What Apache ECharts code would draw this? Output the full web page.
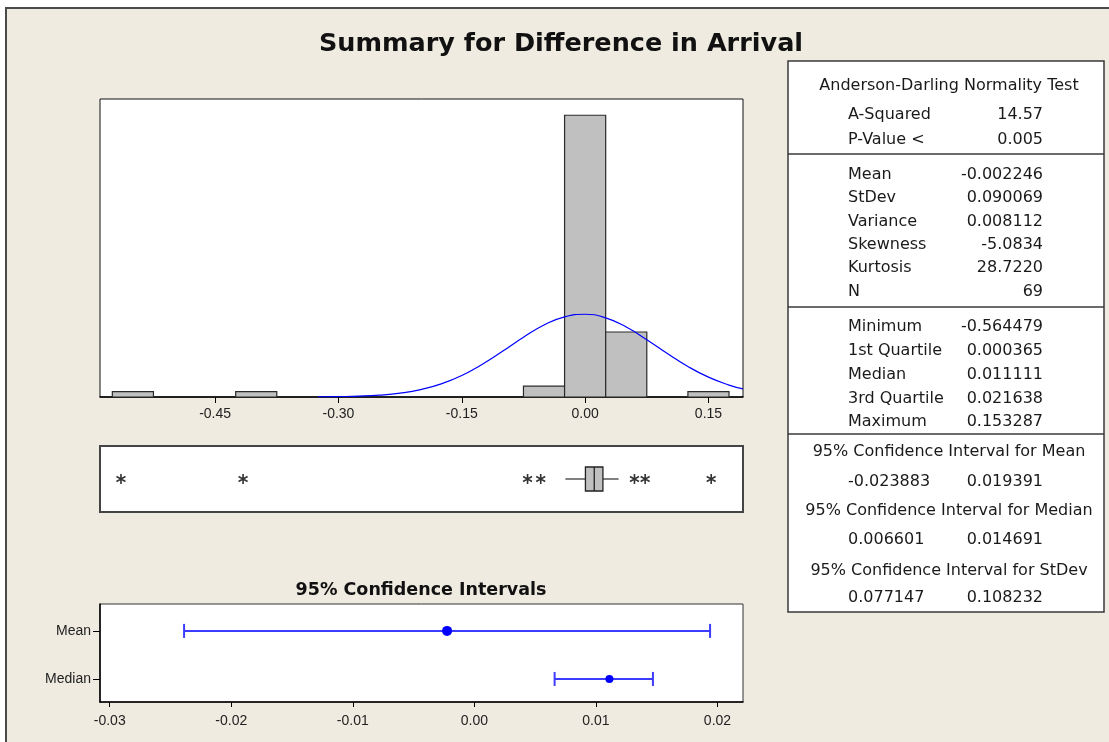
<!DOCTYPE html>
<html>
<head>
<meta charset="utf-8">
<title>Summary for Difference in Arrival</title>
<script src="https://cdn.jsdelivr.net/npm/echarts@6/dist/echarts.min.js"></script>
<style>
  html, body { margin: 0; padding: 0; background: #fff; }
  #main { width: 1109px; height: 742px; }
</style>
</head>
<body>
<div id="main"></div>
<script>
// histogram: bin centers (width 0.05) and counts
const binCenters = [-0.55, -0.50, -0.45, -0.40, -0.35, -0.30, -0.25, -0.20, -0.15, -0.10, -0.05, 0.00, 0.05, 0.10, 0.15];
const binCounts  = [1, 0, 0, 1, 0, 0, 0, 0, 0, 0, 2, 52, 12, 0, 1];
const binWidth = 0.05;

// fitted normal curve (in counts)
const curveX = [-0.325, -0.300, -0.275, -0.250, -0.225, -0.200, -0.175, -0.150, -0.125, -0.100, -0.075, -0.050,
                -0.025, 0.000, 0.025, 0.050, 0.075, 0.100, 0.125, 0.150, 0.175, 0.192];
const curveY = [0.02, 0.07, 0.16, 0.35, 0.72, 1.37, 2.43, 3.98, 6.04, 8.48, 11.03, 13.28,
                14.80, 15.27, 14.60, 12.92, 10.58, 8.02, 5.63, 3.66, 2.20, 1.50];
const histTicks = [-0.45, -0.30, -0.15, 0.00, 0.15];

// boxplot: whisker low, Q1, median, Q3, whisker high + outliers
const boxStats = [-0.024, 0.000365, 0.011111, 0.021638, 0.0407];
const outliers = [-0.5645, -0.416, -0.070, -0.054, 0.060, 0.073, 0.1533];

// 95% confidence intervals
const ciRows = ['Mean', 'Median'];
const ciEst  = [-0.002246, 0.011111];
const ciLow  = [-0.023883, 0.006601];
const ciHigh = [0.019391, 0.014691];
const ciTicks = [-0.03, -0.02, -0.01, 0.00, 0.01, 0.02];

// summary table
const adLabels = ['A-Squared', 'P-Value <'];
const adValues = ['14.57', '0.005'];
const descLabels = ['Mean', 'StDev', 'Variance', 'Skewness', 'Kurtosis', 'N'];
const descValues = ['-0.002246', '0.090069', '0.008112', '-5.0834', '28.7220', '69'];
const quartLabels = ['Minimum', '1st Quartile', 'Median', '3rd Quartile', 'Maximum'];
const quartValues = ['-0.564479', '0.000365', '0.011111', '0.021638', '0.153287'];
const ciTitles = ['95% Confidence Interval for Mean', '95% Confidence Interval for Median', '95% Confidence Interval for StDev'];
const ciTableLow  = ['-0.023883', '0.006601', '0.077147'];
const ciTableHigh = ['0.019391', '0.014691', '0.108232'];

const chart = echarts.init(document.getElementById('main'));

const axisFont = { fontFamily: 'Liberation Sans, Arial, sans-serif', fontSize: 14, color: '#222' };
const tableFont = '16px "DejaVu Sans", sans-serif';

function renderBar(params, api) {
  const n = api.value(2);
  if (!n) return null;
  const p0 = api.coord([api.value(0), n]);
  const p1 = api.coord([api.value(1), 0]);
  return {
    type: 'rect',
    shape: { x: p0[0], y: p0[1], width: p1[0] - p0[0], height: p1[1] - p0[1] },
    style: { fill: '#C0C0C0', stroke: '#2a2a2a', lineWidth: 1.2 }
  };
}

function renderBox(params, api) {
  const y = api.coord([0, 0.5])[1];
  const x = [0, 1, 2, 3, 4].map(i => api.coord([api.value(i), 0.5])[0]);
  const h = 12;
  return {
    type: 'group',
    children: [
      { type: 'line', shape: { x1: x[0], y1: y, x2: x[1], y2: y }, style: { stroke: '#000', lineWidth: 1 } },
      { type: 'line', shape: { x1: x[3], y1: y, x2: x[4], y2: y }, style: { stroke: '#000', lineWidth: 1 } },
      { type: 'rect', shape: { x: x[1], y: y - h, width: x[3] - x[1], height: 2 * h },
        style: { fill: '#C0C0C0', stroke: '#222', lineWidth: 1.3 } },
      { type: 'line', shape: { x1: x[2], y1: y - h, x2: x[2], y2: y + h }, style: { stroke: '#222', lineWidth: 1.3 } }
    ]
  };
}

function renderCI(params, api) {
  const row = api.value(0);
  const lo = api.coord([api.value(1), row]);
  const est = api.coord([api.value(2), row]);
  const hi = api.coord([api.value(3), row]);
  const r = params.dataIndex === 0 ? 5 : 4;
  const cap = 7;
  const st = { stroke: '#3c3cff', lineWidth: 2 };
  return {
    type: 'group',
    children: [
      { type: 'line', shape: { x1: lo[0], y1: lo[1], x2: hi[0], y2: hi[1] }, style: st },
      { type: 'line', shape: { x1: lo[0], y1: lo[1] - cap, x2: lo[0], y2: lo[1] + cap }, style: st },
      { type: 'line', shape: { x1: hi[0], y1: hi[1] - cap, x2: hi[0], y2: hi[1] + cap }, style: st },
      { type: 'circle', shape: { cx: est[0], cy: est[1], r: r }, style: { fill: '#0000ff' } }
    ]
  };
}

// table graphics
const tbl = [];
const tx = 788, ty = 61, tw = 316, th = 551;
const labX = 848, valX = 1043, midX = 949;
tbl.push({ type: 'rect', shape: { x: tx, y: ty, width: tw, height: th }, style: { fill: '#fff', stroke: '#3a3a3a', lineWidth: 1.5 } });
[154, 307, 434].forEach(y => {
  tbl.push({ type: 'line', shape: { x1: tx, y1: y, x2: tx + tw, y2: y }, style: { stroke: '#3a3a3a', lineWidth: 1.5 } });
});
function txt(s, x, y, align) {
  tbl.push({ type: 'text', x: x, y: y,
    style: { text: s, font: tableFont, fill: '#1a1a1a', align: align, verticalAlign: 'middle' } });
}
txt('Anderson-Darling Normality Test', midX, 86, 'center');
adLabels.forEach((s, i) => { txt(s, labX, 115 + 24.5 * i, 'left'); txt(adValues[i], valX, 115 + 24.5 * i, 'right'); });
descLabels.forEach((s, i) => { txt(s, labX, 175 + 23.3 * i, 'left'); txt(descValues[i], valX, 175 + 23.3 * i, 'right'); });
quartLabels.forEach((s, i) => { txt(s, labX, 327 + 23.8 * i, 'left'); txt(quartValues[i], valX, 327 + 23.8 * i, 'right'); });
const ciHeadY = [452, 511, 571], ciValY = [482, 540, 598];
ciTitles.forEach((s, i) => {
  txt(s, midX, ciHeadY[i], 'center');
  txt(ciTableLow[i], labX, ciValY[i], 'left');
  txt(ciTableHigh[i], valX, ciValY[i], 'right');
});

const option = {
  backgroundColor: '#EFEBE1',
  animation: false,
  graphic: [
    { type: 'rect', shape: { x: 0, y: 0, width: 1109, height: 7 }, style: { fill: '#fff' } },
    { type: 'rect', shape: { x: 0, y: 0, width: 5, height: 742 }, style: { fill: '#fff' } },
    { type: 'polyline', shape: { points: [[6, 742], [6, 8], [1109, 8]] }, style: { stroke: '#4a4a4a', lineWidth: 2, fill: null } },
    { type: 'text', x: 561, y: 44,
      style: { text: 'Summary for Difference in Arrival', font: 'bold 25.5px "DejaVu Sans", sans-serif', fill: '#111', align: 'center', verticalAlign: 'middle' } },
    { type: 'text', x: 421, y: 590,
      style: { text: '95% Confidence Intervals', font: 'bold 17.5px "DejaVu Sans", sans-serif', fill: '#111', align: 'center', verticalAlign: 'middle' } },
    { type: 'group', children: tbl }
  ],
  grid: [
    { left: 100, top: 99, width: 643, height: 298, show: true, backgroundColor: '#fff', borderColor: '#111', borderWidth: 1 },
    { left: 100, top: 446, width: 643, height: 66, show: true, backgroundColor: '#fff', borderColor: '#444', borderWidth: 2 },
    { left: 100, top: 604, width: 643, height: 98, show: true, backgroundColor: '#fff', borderColor: '#333', borderWidth: 1 }
  ],
  xAxis: [
    { gridIndex: 0, type: 'value', min: -0.59, max: 0.192, splitLine: { show: false },
      axisLine: { show: true, onZero: false, lineStyle: { color: '#000', width: 1.5 } },
      axisTick: { show: true, inside: false, length: 6, customValues: histTicks, lineStyle: { color: '#000' } },
      axisLabel: Object.assign({ customValues: histTicks, margin: 10, formatter: v => v.toFixed(2) }, axisFont) },
    { gridIndex: 1, type: 'value', min: -0.59, max: 0.192, show: false, splitLine: { show: false } },
    { gridIndex: 2, type: 'value', min: -0.0308, max: 0.0221, splitLine: { show: false },
      axisLine: { show: true, onZero: false, lineStyle: { color: '#000', width: 1.5 } },
      axisTick: { show: true, inside: false, length: 5, customValues: ciTicks, lineStyle: { color: '#000' } },
      axisLabel: Object.assign({ customValues: ciTicks, margin: 12, formatter: v => v.toFixed(2) }, axisFont) }
  ],
  yAxis: [
    { gridIndex: 0, type: 'value', min: 0, max: 55, show: false, splitLine: { show: false } },
    { gridIndex: 1, type: 'value', min: 0, max: 1, show: false, splitLine: { show: false } },
    { gridIndex: 2, type: 'value', min: -0.48, max: 1.56, splitLine: { show: false },
      axisLine: { show: true, onZero: false, lineStyle: { color: '#000', width: 1.5 } },
      axisTick: { show: true, inside: false, length: 7, customValues: [0, 1], lineStyle: { color: '#000' } },
      axisLabel: Object.assign({ customValues: [0, 1], margin: 9,
        formatter: v => ciRows[ciRows.length - 1 - Math.round(v)] }, axisFont) }
  ],
  series: [
    { type: 'custom', xAxisIndex: 0, yAxisIndex: 0, renderItem: renderBar,
      encode: { x: [0, 1], y: 2 },
      data: binCenters.map((c, i) => [c - binWidth / 2, c + binWidth / 2, binCounts[i]]) },
    { type: 'line', xAxisIndex: 0, yAxisIndex: 0, z: 3, smooth: true, symbol: 'none',
      lineStyle: { color: '#0000ff', width: 1.2 },
      data: curveX.map((x, i) => [x, curveY[i]]) },
    { type: 'custom', xAxisIndex: 1, yAxisIndex: 1, renderItem: renderBox,
      encode: { x: [0, 1, 2, 3, 4] }, data: [boxStats] },
    { type: 'scatter', xAxisIndex: 1, yAxisIndex: 1, symbolSize: [9, 10],
      symbol: 'path://M5,0 L5,10 M0.7,2.5 L9.3,7.5 M0.7,7.5 L9.3,2.5',
      itemStyle: { color: 'transparent', borderColor: '#000', borderWidth: 1.7 },
      data: outliers.map(v => [v, 0.5]) },
    { type: 'custom', xAxisIndex: 2, yAxisIndex: 2, renderItem: renderCI,
      encode: { x: [1, 2, 3], y: 0 },
      data: ciRows.map((r, i) => [ciRows.length - 1 - i, ciLow[i], ciEst[i], ciHigh[i]]) }
  ]
};

chart.setOption(option);
</script>
</body>
</html>
